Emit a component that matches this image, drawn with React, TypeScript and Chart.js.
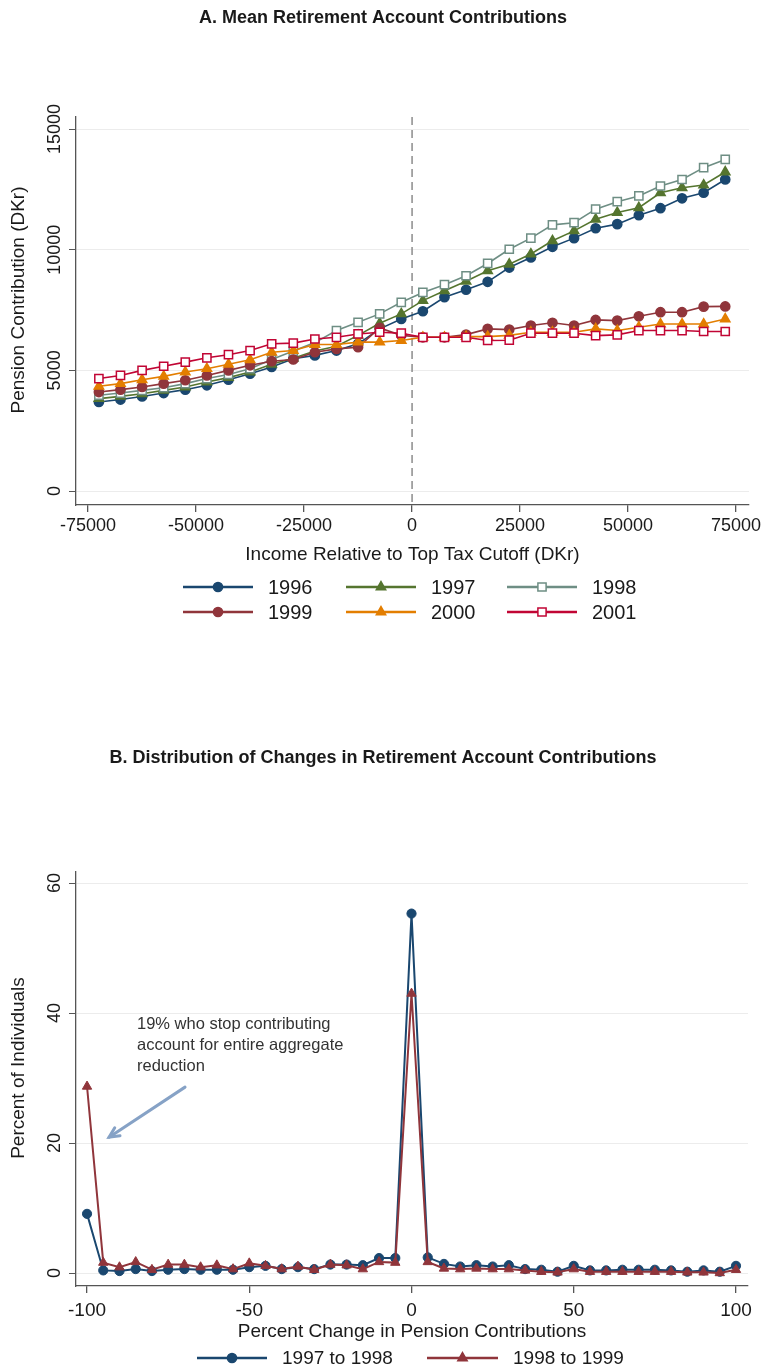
import React, { useEffect, useRef } from 'react';
import { Chart, registerables } from 'chart.js';

Chart.register(...registerables);

const FONT = '"Liberation Sans", Arial, Helvetica, sans-serif';

// ---------------- Panel A data ----------------
const INCOME_BINS = [
  -72500, -67500, -62500, -57500, -52500, -47500, -42500, -37500, -32500, -27500,
  -22500, -17500, -12500, -7500, -2500, 2500, 7500, 12500, 17500, 22500,
  27500, 32500, 37500, 42500, 47500, 52500, 57500, 62500, 67500, 72500,
];
const YEARS = ['1996', '1997', '1998', '1999', '2000', '2001'];
const C1996 = [3690, 3790, 3920, 4060, 4200, 4380, 4610, 4860, 5140, 5480, 5620, 5820, 6100, 6720, 7130, 7450, 8030, 8340, 8670, 9260, 9680, 10120, 10480, 10890, 11060, 11430, 11720, 12130, 12360, 12910];
const C1997 = [3830, 3920, 4030, 4170, 4310, 4520, 4700, 4930, 5250, 5500, 5800, 6000, 6450, 6950, 7340, 7890, 8300, 8690, 9130, 9400, 9820, 10370, 10780, 11260, 11540, 11740, 12360, 12570, 12680, 13220];
const C1998 = [3970, 4060, 4170, 4280, 4450, 4660, 4830, 5070, 5450, 5800, 6150, 6650, 6990, 7340, 7820, 8230, 8550, 8920, 9430, 10020, 10480, 11030, 11120, 11680, 11990, 12230, 12640, 12910, 13400, 13740];
const C1999 = [4100, 4200, 4310, 4450, 4590, 4790, 5000, 5210, 5380, 5450, 5750, 5890, 5960, 6760, 6450, 6370, 6370, 6480, 6720, 6690, 6860, 6970, 6860, 7090, 7060, 7240, 7410, 7410, 7640, 7650];
const C2000 = [4340, 4450, 4610, 4750, 4930, 5070, 5250, 5440, 5750, 5820, 6070, 6070, 6170, 6170, 6240, 6370, 6370, 6400, 6400, 6450, 6580, 6580, 6580, 6720, 6650, 6790, 6920, 6920, 6920, 7130];
const C2001 = [4660, 4790, 5000, 5170, 5340, 5520, 5650, 5820, 6100, 6130, 6300, 6370, 6510, 6580, 6540, 6370, 6370, 6370, 6240, 6250, 6540, 6540, 6540, 6440, 6470, 6650, 6650, 6650, 6610, 6610];
const A_X_TICKS = [-75000, -50000, -25000, 0, 25000, 50000, 75000];
const A_Y_TICKS = [0, 5000, 10000, 15000];
const TAX_CUTOFF = 0;

// ---------------- Panel B data ----------------
const PCT_CHANGE = [
  -100, -95, -90, -85, -80, -75, -70, -65, -60, -55, -50, -45, -40, -35, -30, -25, -20, -15, -10, -5,
  0, 5, 10, 15, 20, 25, 30, 35, 40, 45, 50, 55, 60, 65, 70, 75, 80, 85, 90, 95, 100,
];
const CHANGE_LABELS = ['1997 to 1998', '1998 to 1999'];
const SHARE_9798 = [9.1, 0.4, 0.3, 0.6, 0.3, 0.5, 0.6, 0.5, 0.5, 0.5, 0.9, 1.1, 0.6, 0.9, 0.6, 1.3, 1.3, 1.2, 2.3, 2.3,
  55.3, 2.4, 1.4, 1.0, 1.2, 1.0, 1.2, 0.6, 0.5, 0.2, 1.1, 0.4, 0.4, 0.5, 0.5, 0.5, 0.4, 0.2, 0.4, 0.2, 1.1];
const SHARE_9899 = [28.7, 1.6, 0.9, 1.7, 0.5, 1.3, 1.3, 0.9, 1.2, 0.6, 1.5, 1.1, 0.6, 1.0, 0.5, 1.3, 1.2, 0.6, 1.7, 1.6,
  43.0, 1.7, 0.7, 0.6, 0.7, 0.6, 0.6, 0.4, 0.2, 0.1, 0.6, 0.2, 0.2, 0.2, 0.2, 0.2, 0.2, 0.1, 0.1, 0.0, 0.5];
const B_X_TICKS = [-100, -50, 0, 50, 100];
const B_Y_TICKS = [0, 20, 40, 60];
const NOTE_LINES = ['19% who stop contributing', 'account for entire aggregate', 'reduction'];
// annotation anchor points in data units
const NOTE_AT = { x: -84.6, y: 38.2 };
const ARROW_FROM = { x: -69.8, y: 28.6 };
const ARROW_TO = { x: -93.2, y: 20.9 };

// ---------------- styles ----------------
const A_COLORS = ['#1a476f', '#55752f', '#6e8e84', '#90353b', '#e37e00', '#c10534'];
const A_STYLES = ['circle', 'triangle', 'rect', 'circle', 'triangle', 'rect'];
const A_HOLLOW = [false, false, true, false, false, true];
const B_COLORS = ['#1a476f', '#90353b'];
const B_STYLES = ['circle', 'triangle'];
const AXIS_COLOR = '#555555';
const GRID_COLOR = '#ececec';
const TEXT_COLOR = '#1a1a1a';

function markerRadius(style: string) {
  if (style === 'rect') return 5.8;
  if (style === 'triangle') return 5.4;
  return 4.6;
}

function drawMarker(ctx: CanvasRenderingContext2D, style: string, x: number, y: number, r: number, stroke: string, fill: string, lw: number) {
  ctx.save();
  ctx.beginPath();
  if (style === 'circle') {
    ctx.arc(x, y, r, 0, Math.PI * 2);
  } else if (style === 'triangle') {
    let rad = 0;
    ctx.moveTo(x + Math.sin(rad) * r, y - Math.cos(rad) * r);
    rad += (2 * Math.PI) / 3;
    ctx.lineTo(x + Math.sin(rad) * r, y - Math.cos(rad) * r);
    rad += (2 * Math.PI) / 3;
    ctx.lineTo(x + Math.sin(rad) * r, y - Math.cos(rad) * r);
    ctx.closePath();
  } else {
    const s = Math.SQRT1_2 * r;
    ctx.rect(x - s, y - s, 2 * s, 2 * s);
  }
  ctx.fillStyle = fill;
  ctx.fill();
  ctx.lineWidth = lw;
  ctx.strokeStyle = stroke;
  ctx.stroke();
  ctx.restore();
}

function xScale(min: number, max: number, ticks: number[], height: number, fontSize: number, pad: number) {
  return {
    type: 'linear',
    min,
    max,
    afterBuildTicks: (s: any) => { s.ticks = ticks.map((v) => ({ value: v })); },
    afterFit: (s: any) => { s.height = height; s.paddingLeft = 0; s.paddingRight = 0; },
    grid: { drawOnChartArea: false, drawTicks: true, tickLength: 7, tickColor: AXIS_COLOR, lineWidth: 1.3 },
    border: { display: true, color: AXIS_COLOR, width: 1.3 },
    ticks: {
      font: { size: fontSize, family: FONT },
      color: TEXT_COLOR,
      padding: pad,
      maxRotation: 0,
      minRotation: 0,
      autoSkip: false,
      callback: (v: any) => String(v),
    },
  };
}

function yScale(min: number, max: number, ticks: number[]) {
  return {
    type: 'linear',
    min,
    max,
    afterBuildTicks: (s: any) => { s.ticks = ticks.map((v) => ({ value: v })); },
    afterFit: (s: any) => { s.width = 76; s.paddingTop = 0; s.paddingBottom = 0; },
    grid: { color: GRID_COLOR, lineWidth: 1, drawTicks: true, tickLength: 7, tickColor: AXIS_COLOR },
    border: { display: true, color: AXIS_COLOR, width: 1.3 },
    ticks: { display: false },
  };
}

function drawCommonText(chart: any, title: string, xTitle: string, yTitle: string, xTitleY: number, tickFont: number) {
  const { ctx, chartArea } = chart;
  ctx.save();
  ctx.fillStyle = TEXT_COLOR;
  ctx.textAlign = 'center';
  ctx.textBaseline = 'middle';
  ctx.font = `bold 18px ${FONT}`;
  ctx.fillText(title, 383, 18);
  // y tick labels (rotated)
  const ys = chart.scales.y;
  ctx.font = `${tickFont}px ${FONT}`;
  ys.ticks.forEach((t: any) => {
    const py = ys.getPixelForValue(t.value);
    ctx.save();
    ctx.translate(55, py);
    ctx.rotate(-Math.PI / 2);
    ctx.fillText(String(t.value), 0, 0);
    ctx.restore();
  });
  ctx.font = `19px ${FONT}`;
  ctx.fillText(xTitle, (chartArea.left + chartArea.right) / 2, xTitleY);
  ctx.save();
  ctx.translate(19, (chartArea.top + chartArea.bottom) / 2 - 11);
  ctx.rotate(-Math.PI / 2);
  ctx.fillText(yTitle, 0, 0);
  ctx.restore();
  ctx.restore();
}

function drawLegendItem(ctx: CanvasRenderingContext2D, x1: number, x2: number, y: number, color: string, style: string, hollow: boolean, label: string, fontSize: number) {
  ctx.save();
  ctx.strokeStyle = color;
  ctx.lineWidth = 2.6;
  ctx.beginPath();
  ctx.moveTo(x1, y);
  ctx.lineTo(x2, y);
  ctx.stroke();
  drawMarker(ctx, style, (x1 + x2) / 2, y, markerRadius(style), color, hollow ? '#ffffff' : color, 1.5);
  ctx.fillStyle = TEXT_COLOR;
  ctx.font = `${fontSize}px ${FONT}`;
  ctx.textAlign = 'left';
  ctx.textBaseline = 'middle';
  ctx.fillText(label, x2 + 15, y + 1);
  ctx.restore();
}

const panelAOverlay = {
  id: 'panelAOverlay',
  beforeDatasetsDraw(chart: any) {
    const { ctx, chartArea } = chart;
    const px = chart.scales.x.getPixelForValue(TAX_CUTOFF);
    ctx.save();
    ctx.strokeStyle = '#8c8c8c';
    ctx.lineWidth = 1.5;
    ctx.setLineDash([8, 5]);
    ctx.beginPath();
    ctx.moveTo(px, chartArea.top);
    ctx.lineTo(px, chartArea.bottom);
    ctx.stroke();
    ctx.restore();
  },
  afterDraw(chart: any) {
    const { ctx } = chart;
    drawCommonText(chart, 'A. Mean Retirement Account Contributions', 'Income Relative to Top Tax Cutoff (DKr)', 'Pension Contribution (DKr)', 555, 18);
    const cols = [183, 346, 507];
    const rows = [587, 612];
    YEARS.forEach((yr, i) => {
      const x1 = cols[i % 3];
      drawLegendItem(ctx, x1, x1 + 70, rows[Math.floor(i / 3)], A_COLORS[i], A_STYLES[i], A_HOLLOW[i], yr, 20);
    });
  },
};

const panelBOverlay = {
  id: 'panelBOverlay',
  afterDatasetsDraw(chart: any) {
    const { ctx } = chart;
    const xs = chart.scales.x;
    const ys = chart.scales.y;
    // annotation text
    ctx.save();
    ctx.fillStyle = '#333333';
    ctx.font = `16.5px ${FONT}`;
    ctx.textAlign = 'left';
    ctx.textBaseline = 'middle';
    const tx = xs.getPixelForValue(NOTE_AT.x);
    const ty = ys.getPixelForValue(NOTE_AT.y);
    NOTE_LINES.forEach((line, i) => ctx.fillText(line, tx, ty + i * 21));
    // arrow
    const ax1 = xs.getPixelForValue(ARROW_FROM.x);
    const ay1 = ys.getPixelForValue(ARROW_FROM.y);
    const ax2 = xs.getPixelForValue(ARROW_TO.x);
    const ay2 = ys.getPixelForValue(ARROW_TO.y);
    const ang = Math.atan2(ay2 - ay1, ax2 - ax1);
    ctx.strokeStyle = '#86a2c6';
    ctx.lineWidth = 3;
    ctx.lineCap = 'round';
    ctx.beginPath();
    ctx.moveTo(ax1, ay1);
    ctx.lineTo(ax2, ay2);
    ctx.stroke();
    const hl = 11;
    ctx.beginPath();
    ctx.moveTo(ax2 - hl * Math.cos(ang - 0.45), ay2 - hl * Math.sin(ang - 0.45));
    ctx.lineTo(ax2, ay2);
    ctx.lineTo(ax2 - hl * Math.cos(ang + 0.45), ay2 - hl * Math.sin(ang + 0.45));
    ctx.stroke();
    ctx.restore();
  },
  afterDraw(chart: any) {
    const { ctx } = chart;
    drawCommonText(chart, 'B. Distribution of Changes in Retirement Account Contributions', 'Percent Change in Pension Contributions', 'Percent of Individuals', 592, 18);
    const lines = [[197, 267], [427, 498]];
    CHANGE_LABELS.forEach((lab, i) => {
      drawLegendItem(ctx, lines[i][0], lines[i][1], 618, B_COLORS[i], B_STYLES[i], false, lab, 19);
    });
  },
};

export default function App() {
  const refA = useRef<HTMLCanvasElement | null>(null);
  const refB = useRef<HTMLCanvasElement | null>(null);

  useEffect(() => {
    const seriesA = [C1996, C1997, C1998, C1999, C2000, C2001];
    const chartA = new Chart(refA.current as HTMLCanvasElement, {
      type: 'line',
      data: {
        datasets: YEARS.map((label, i) => ({
          label,
          data: INCOME_BINS.map((x, j) => ({ x, y: seriesA[i][j] })),
          borderColor: A_COLORS[i],
          backgroundColor: A_HOLLOW[i] ? '#ffffff' : A_COLORS[i],
          pointBackgroundColor: A_HOLLOW[i] ? '#ffffff' : A_COLORS[i],
          pointBorderColor: A_COLORS[i],
          pointStyle: A_STYLES[i],
          pointRadius: markerRadius(A_STYLES[i]),
          pointBorderWidth: 1.5,
          borderWidth: 1.6,
          tension: 0,
          fill: false,
          order: 5 - i,
        })),
      } as any,
      options: {
        animation: false,
        responsive: false,
        maintainAspectRatio: false,
        layout: { padding: { top: 117, right: 12, bottom: 95, left: 0 } },
        plugins: { legend: { display: false }, tooltip: { enabled: false }, title: { display: false } },
        scales: {
          x: xScale(-77800, 78000, A_X_TICKS, 40, 18, 3),
          y: yScale(-580, 15500, A_Y_TICKS),
        } as any,
      },
      plugins: [panelAOverlay],
    });

    const seriesB = [SHARE_9798, SHARE_9899];
    const chartB = new Chart(refB.current as HTMLCanvasElement, {
      type: 'line',
      data: {
        datasets: CHANGE_LABELS.map((label, i) => ({
          label,
          data: PCT_CHANGE.map((x, j) => ({ x, y: seriesB[i][j] })),
          borderColor: B_COLORS[i],
          backgroundColor: B_COLORS[i],
          pointBackgroundColor: B_COLORS[i],
          pointBorderColor: B_COLORS[i],
          pointStyle: B_STYLES[i],
          pointRadius: markerRadius(B_STYLES[i]),
          pointBorderWidth: 1,
          borderWidth: 2,
          tension: 0,
          fill: false,
          order: 1 - i,
        })),
      } as any,
      options: {
        animation: false,
        responsive: false,
        maintainAspectRatio: false,
        layout: { padding: { top: 132, right: 13, bottom: 44, left: 0 } },
        plugins: { legend: { display: false }, tooltip: { enabled: false }, title: { display: false } },
        scales: {
          x: xScale(-103.4, 103.7, B_X_TICKS, 40, 19, 6),
          y: yScale(-2.0, 61.7, B_Y_TICKS),
        } as any,
      },
      plugins: [panelBOverlay],
    });

    return () => {
      chartA.destroy();
      chartB.destroy();
    };
  }, []);

  return (
    <div style={{ position: 'absolute', left: 0, top: 0, width: 761, height: 1370, background: '#ffffff' }}>
      <canvas ref={refA} width={761} height={640} style={{ position: 'absolute', left: 0, top: 0, width: 761, height: 640 }} />
      <canvas ref={refB} width={761} height={630} style={{ position: 'absolute', left: 0, top: 740, width: 761, height: 630 }} />
    </div>
  );
}
